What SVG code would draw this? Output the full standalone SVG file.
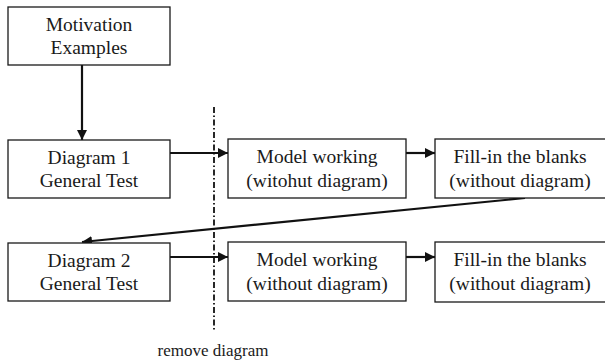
<svg xmlns="http://www.w3.org/2000/svg" width="605" height="363" viewBox="0 0 605 363">
<defs>
<style>
.box{fill:#fff;stroke:#1a1a1a;stroke-width:1.3}
.t{font-family:"Liberation Serif","Times New Roman",serif;font-size:19.5px;fill:#1a1a1a;text-anchor:middle}
.c{stroke:#111;stroke-width:2.2;fill:none}
</style>
<marker id="ah" viewBox="0 0 10 10" refX="10" refY="5" markerWidth="10" markerHeight="10" markerUnits="userSpaceOnUse" orient="auto">
<path d="M0,0 L10,5 L0,10 z" fill="#111"/>
</marker>
</defs>
<rect width="605" height="363" fill="#fff"/>
<g id="connectors">
<line class="c" x1="82" y1="65" x2="82" y2="140" marker-end="url(#ah)"/>
<line class="c" x1="170" y1="153" x2="228" y2="153" marker-end="url(#ah)"/>
<line class="c" x1="406" y1="153" x2="435" y2="153" marker-end="url(#ah)"/>
<line class="c" x1="525" y1="198" x2="82" y2="242" marker-end="url(#ah)"/>
<line class="c" x1="170" y1="257" x2="228" y2="257" marker-end="url(#ah)"/>
<line class="c" x1="406" y1="257" x2="435" y2="257" marker-end="url(#ah)"/>
<line x1="214" y1="107" x2="214" y2="331" stroke="#111" stroke-width="1.8" stroke-dasharray="6 2.5 1.5 2.5"/>
</g>
<g id="motivation">
<rect class="box" x="8" y="7" width="162" height="58"/>
<text class="t" x="89" y="31">Motivation</text>
<text class="t" x="89" y="54">Examples</text>
</g>
<g id="diagram1">
<rect class="box" x="8" y="140" width="162" height="58"/>
<text class="t" x="89" y="164">Diagram 1</text>
<text class="t" x="89" y="187">General Test</text>
</g>
<g id="model1">
<rect class="box" x="228" y="139" width="178" height="59"/>
<text class="t" x="317" y="163">Model working</text>
<text class="t" x="317" y="187">(witohut diagram)</text>
</g>
<g id="fill1">
<rect class="box" x="435" y="139" width="175" height="59"/>
<text class="t" x="520" y="163">Fill-in the blanks</text>
<text class="t" x="520" y="187">(without diagram)</text>
</g>
<g id="diagram2">
<rect class="box" x="8" y="243" width="162" height="58"/>
<text class="t" x="89" y="267">Diagram 2</text>
<text class="t" x="89" y="290">General Test</text>
</g>
<g id="model2">
<rect class="box" x="228" y="242" width="178" height="59"/>
<text class="t" x="317" y="266">Model working</text>
<text class="t" x="317" y="290">(without diagram)</text>
</g>
<g id="fill2">
<rect class="box" x="435" y="242" width="175" height="60"/>
<text class="t" x="520" y="266">Fill-in the blanks</text>
<text class="t" x="520" y="290">(without diagram)</text>
</g>
<g id="label">
<text x="213" y="356" style="font-family:'Liberation Serif','Times New Roman',serif;font-size:17px;fill:#1a1a1a;text-anchor:middle">remove diagram</text>
</g>
</svg>
